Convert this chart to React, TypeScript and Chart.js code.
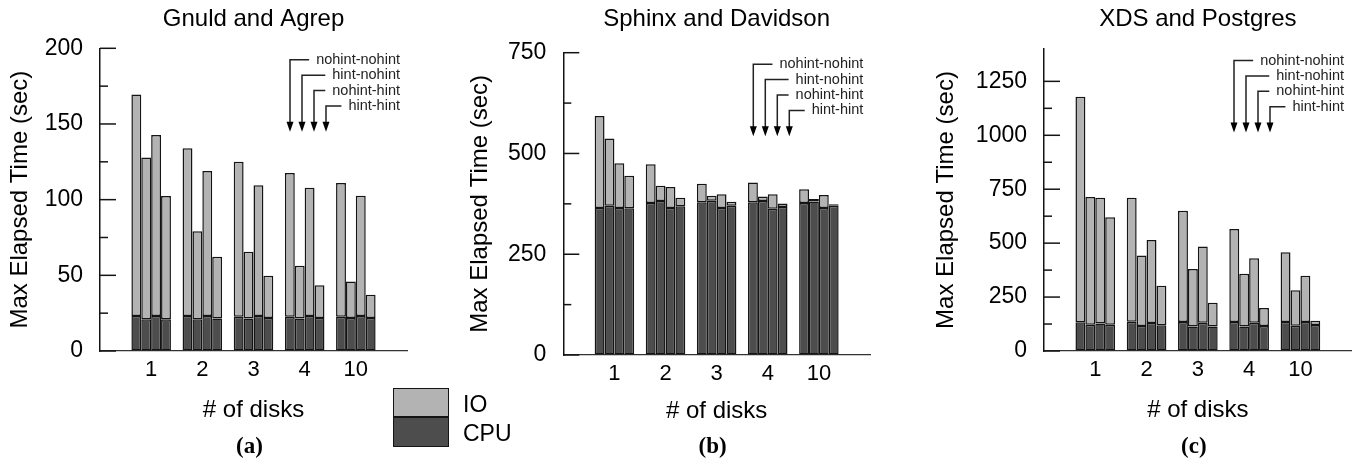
import React, { useEffect, useRef } from 'react';
import { Chart, registerables } from 'chart.js';

Chart.register(...registerables);

const DISKS = ['1', '2', '3', '4', '10'];
const SERIES = ['nohint-nohint', 'hint-nohint', 'nohint-hint', 'hint-hint'];

// Gnuld and Agrep (rows follow SERIES, columns follow DISKS)
const GA_CPU = [
  [23.1, 23.1, 22.7, 22.7, 22.7],
  [20.9, 20.9, 21.4, 21.4, 21.8],
  [23.1, 23.1, 23.1, 23.1, 23.1],
  [20.9, 21.4, 21.8, 21.8, 21.8],
];
const GA_IO = [
  [146.3, 110.8, 102.4, 94.9, 88.3],
  [106.9, 58.2, 44.2, 35.0, 24.2],
  [119.6, 95.8, 86.4, 84.8, 79.5],
  [81.5, 40.9, 28.0, 21.6, 15.4],
];

// Sphinx and Davidson
const SD_CPU = [
  [365, 377, 379, 379, 377],
  [370, 382, 383, 382, 381],
  [365, 365, 365, 363, 365],
  [364, 369, 370, 367, 370],
];
const SD_IO = [
  [228, 96, 46, 49, 34],
  [167, 38, 12, 11, 6],
  [111, 52, 34, 36, 32],
  [81, 21, 10, 9, 4],
];

// XDS and Postgres
const XP_CPU = [
  [133, 136, 134, 134, 134],
  [122, 116, 113, 113, 117],
  [128, 130, 131, 131, 134],
  [122, 119, 114, 116, 120],
];
const XP_IO = [
  [1046, 574, 516, 432, 324],
  [592, 327, 267, 245, 165],
  [583, 385, 354, 299, 215],
  [498, 183, 110, 83, 20],
];

const SANS = '"Liberation Sans", Arial, sans-serif';
const SERIF = '"Liberation Serif", "Times New Roman", serif';
const IO_COLOR = '#b3b3b3';
const CPU_COLOR = '#4d4d4d';
const EDGE = '#141414';

type Panel = {
  title: string;
  tag: string;
  cpu: number[][];
  io: number[][];
  max: number;
  minor: number;
  major: number;
  canvasLeft: number;
  canvasWidth: number;
  yWidth: number;
  yTitlePad: number;
  padRight: number;
  padBottom: number;
  titleGap: number;
  xTitlePad: number;
};

const PANELS: Panel[] = [
  {
    title: 'Gnuld and Agrep', tag: '(a)', cpu: GA_CPU, io: GA_IO,
    max: 200, minor: 25, major: 50,
    canvasLeft: 0, canvasWidth: 430, yWidth: 100, yTitlePad: 6.1,
    padRight: 23, padBottom: 33, titleGap: 14.9, xTitlePad: 6.6,
  },
  {
    title: 'Sphinx and Davidson', tag: '(b)', cpu: SD_CPU, io: SD_IO,
    max: 750, minor: 125, major: 250,
    canvasLeft: 440, canvasWidth: 440, yWidth: 123.3, yTitlePad: 26.1,
    padRight: 10, padBottom: 29, titleGap: 19.3, xTitlePad: 8.9,
  },
  {
    title: 'XDS and Postgres', tag: '(c)', cpu: XP_CPU, io: XP_IO,
    max: 1400, minor: 125, major: 250,
    canvasLeft: 900, canvasWidth: 458, yWidth: 144, yTitlePad: 31.9,
    padRight: 6.3, padBottom: 33, titleGap: 15.6, xTitlePad: 6.6,
  },
];

function makeDecor(p: Panel) {
  return {
    id: 'decor' + p.tag,
    afterDraw(chart: any) {
      const { ctx, chartArea } = chart;
      const { left, right, top } = chartArea;
      const ys = chart.scales.y;
      ctx.save();
      // inward y tick marks
      ctx.strokeStyle = EDGE;
      ctx.lineWidth = 1.5;
      ys.ticks.forEach((t: any) => {
        if (t.value % p.minor !== 0) return;
        const py = ys.getPixelForValue(t.value);
        const len = t.value % p.major === 0 ? 16 : 8;
        ctx.beginPath();
        ctx.moveTo(left, py);
        ctx.lineTo(left + len, py);
        ctx.stroke();
      });
      // series annotation arrows
      ctx.font = '14.5px ' + SANS;
      ctx.textBaseline = 'middle';
      ctx.textAlign = 'right';
      const textRight = left + 300;
      const tipY = top + 83.5;
      SERIES.forEach((s, i) => {
        const ax = left + 190 + i * 12;
        const ly = top + 11.5 + i * 15.4;
        const tw = ctx.measureText(s).width;
        ctx.strokeStyle = '#222';
        ctx.lineWidth = 1.5;
        ctx.beginPath();
        ctx.moveTo(textRight - tw - 7, ly);
        ctx.lineTo(ax, ly);
        ctx.lineTo(ax, tipY - 9);
        ctx.stroke();
        ctx.fillStyle = '#000';
        ctx.beginPath();
        ctx.moveTo(ax - 3.5, tipY - 10);
        ctx.lineTo(ax + 3.5, tipY - 10);
        ctx.lineTo(ax, tipY);
        ctx.closePath();
        ctx.fill();
        ctx.fillStyle = '#222';
        ctx.fillText(s, textRight, ly);
      });
      // panel tag
      ctx.font = 'bold 23px ' + SERIF;
      ctx.fillStyle = '#000';
      ctx.textAlign = 'center';
      ctx.textBaseline = 'alphabetic';
      ctx.fillText(p.tag, (left + right) / 2 - 4, 452.5);
      ctx.restore();
    },
  };
}

function PanelChart({ p }: { p: Panel }) {
  const ref = useRef<HTMLCanvasElement | null>(null);
  useEffect(() => {
    if (!ref.current) return;
    const labels = ['', ...DISKS, ''];
    const datasets: any[] = [];
    SERIES.forEach((s, i) => {
      datasets.push({
        label: 'CPU ' + s,
        stack: s,
        data: [null, ...p.cpu[i], null],
        backgroundColor: CPU_COLOR,
        borderColor: EDGE,
        borderWidth: 1.5,
        borderSkipped: false,
      });
      datasets.push({
        label: 'IO ' + s,
        stack: s,
        data: [null, ...p.io[i], null],
        backgroundColor: IO_COLOR,
        borderColor: EDGE,
        borderWidth: 1.5,
        borderSkipped: false,
      });
    });
    const chart = new Chart(ref.current, {
      type: 'bar',
      data: { labels, datasets },
      plugins: [makeDecor(p)],
      options: {
        responsive: false,
        animation: false,
        devicePixelRatio: 1,
        datasets: { bar: { categoryPercentage: 0.773, barPercentage: 1 } },
        layout: { padding: { top: 0, left: 0, right: p.padRight, bottom: p.padBottom } },
        plugins: {
          legend: { display: false },
          tooltip: { enabled: false },
          title: {
            display: true,
            text: p.title,
            fullSize: false,
            color: '#000',
            font: { family: SANS, size: 24, weight: 'normal', lineHeight: 1.2 },
            padding: { top: 4.6, bottom: p.titleGap },
          },
        },
        scales: {
          x: {
            type: 'category',
            stacked: true,
            offset: false,
            grid: { drawOnChartArea: false, drawTicks: false },
            border: { display: true, color: '#333', width: 1.2 },
            ticks: {
              autoSkip: false,
              maxRotation: 0,
              padding: 6,
              color: '#000',
              font: { family: SANS, size: 22, lineHeight: 1.2 },
            },
            title: {
              display: true,
              text: '# of disks',
              color: '#000',
              font: { family: SANS, size: 24, lineHeight: 1.2 },
              padding: { top: 0, bottom: p.xTitlePad },
            },
            afterFit: (s: any) => { s.height = 80; },
          },
          y: {
            stacked: true,
            min: 0,
            max: p.max,
            grid: { drawOnChartArea: false, drawTicks: false },
            border: { display: true, color: EDGE, width: 1.5 },
            ticks: {
              stepSize: p.minor,
              autoSkip: false,
              padding: 17,
              color: '#000',
              font: { family: SANS, size: 23, lineHeight: 1.2 },
              callback: (v: any) => (Number(v) % p.major === 0 ? String(v) : ''),
            },
            title: {
              display: true,
              text: 'Max Elapsed Time (sec)',
              color: '#000',
              font: { family: SANS, size: 24, lineHeight: 1.2 },
              padding: { top: p.yTitlePad, bottom: 0 },
            },
            afterFit: (s: any) => { s.width = p.yWidth; },
          },
        },
      } as any,
    });
    return () => chart.destroy();
  }, [p]);
  return (
    <canvas
      ref={ref}
      width={p.canvasWidth}
      height={464}
      style={{ position: 'absolute', left: p.canvasLeft, top: 0, width: p.canvasWidth, height: 464 }}
    />
  );
}

function Legend() {
  const txt: React.CSSProperties = {
    position: 'absolute',
    left: 463,
    fontFamily: SANS,
    fontSize: 23,
    lineHeight: '23px',
    color: '#000',
    whiteSpace: 'nowrap',
  };
  return (
    <>
      <div style={{ position: 'absolute', left: 393, top: 388, width: 56, height: 29, background: IO_COLOR, border: '1.5px solid ' + EDGE, boxSizing: 'border-box' }} />
      <div style={{ position: 'absolute', left: 393, top: 416.5, width: 56, height: 30.5, background: CPU_COLOR, border: '1.5px solid ' + EDGE, boxSizing: 'border-box' }} />
      <span style={{ ...txt, top: 392.5 }}>IO</span>
      <span style={{ ...txt, top: 421.5 }}>CPU</span>
    </>
  );
}

export default function App() {
  return (
    <div style={{ position: 'fixed', left: 0, top: 0, width: 1358, height: 464, background: '#fff', overflow: 'hidden' }}>
      {PANELS.map((p) => (
        <PanelChart key={p.tag} p={p} />
      ))}
      <Legend />
    </div>
  );
}
